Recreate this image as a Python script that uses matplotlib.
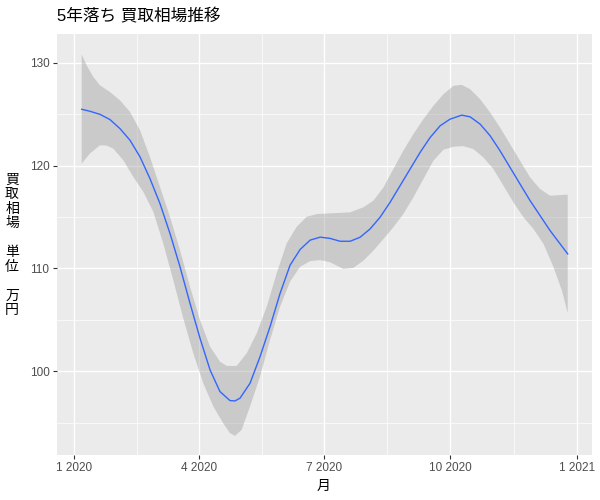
import numpy as np
import matplotlib
matplotlib.use('Agg')
import matplotlib.pyplot as plt

# days since 2020-01-01 and smoothed buyback price (10k yen)
fit_days = [5.4, 11.4, 18.7, 26.0, 33.3, 40.6, 47.9, 55.1, 62.4, 69.7, 77.0, 84.3, 91.6,
            98.9, 106.1, 113.4, 117.1, 120.7, 128.0, 135.3, 142.6, 149.9, 157.2, 164.5,
            171.8, 179.1, 186.3, 193.6, 200.9, 208.2, 215.4, 222.7, 230.0, 237.3, 244.6,
            251.9, 259.2, 266.5, 273.7, 282.2, 288.3, 295.6, 302.9, 310.1, 317.4, 324.7,
            332.0, 339.3, 346.6, 353.9, 359.4]
fit_vals = [125.47, 125.28, 124.98, 124.47, 123.59, 122.46, 120.84, 118.74, 116.31, 113.40,
            110.16, 106.60, 103.20, 100.13, 98.03, 97.15, 97.12, 97.38, 98.83, 101.42,
            104.34, 107.57, 110.32, 111.84, 112.75, 113.04, 112.92, 112.64, 112.64, 113.03,
            113.83, 114.97, 116.42, 118.04, 119.66, 121.28, 122.73, 123.87, 124.51, 124.90,
            124.74, 124.03, 122.90, 121.44, 119.82, 118.20, 116.59, 115.13, 113.67, 112.38,
            111.41]

upper_days = [5.4, 9.0, 13.9, 18.7, 26.0, 33.3, 40.6, 47.9, 55.1, 62.4, 69.7, 77.0, 84.3,
              91.6, 98.9, 106.1, 111.0, 118.3, 125.6, 132.9, 140.2, 147.4, 154.7, 162.0,
              169.3, 176.6, 186.3, 200.9, 210.6, 217.9, 225.2, 232.4, 239.7, 247.0, 254.3,
              261.6, 268.9, 276.2, 282.2, 288.3, 295.6, 302.9, 310.1, 317.4, 324.7, 332.0,
              339.3, 346.6, 359.4]
upper_vals = [130.81, 129.74, 128.61, 127.80, 127.15, 126.34, 125.21, 123.43, 120.84, 117.93,
              115.02, 111.78, 108.22, 104.98, 102.39, 100.94, 100.52, 100.52, 101.75, 103.69,
              106.28, 109.51, 112.43, 114.05, 115.02, 115.28, 115.35, 115.45, 115.94, 116.59,
              117.88, 119.66, 121.44, 123.06, 124.51, 125.81, 126.94, 127.75, 127.85, 127.43,
              126.46, 125.16, 123.71, 122.09, 120.47, 118.85, 117.72, 117.07, 117.17]

lower_days = [5.4, 11.4, 18.7, 23.6, 28.4, 35.7, 43.0, 50.3, 57.6, 64.8, 72.1, 79.4, 86.7,
              94.0, 101.3, 108.5, 113.4, 117.1, 121.9, 128.0, 135.3, 142.6, 149.9, 157.2,
              164.5, 171.8, 179.1, 186.3, 196.0, 203.3, 210.6, 217.9, 225.2, 232.4, 239.7,
              247.0, 254.3, 261.6, 268.9, 276.2, 283.4, 290.7, 298.0, 305.3, 312.6, 319.9,
              327.2, 334.5, 341.8, 349.1, 355.2, 359.4]
lower_vals = [120.19, 121.17, 121.97, 121.94, 121.65, 120.52, 118.90, 117.44, 115.50, 112.43,
              108.87, 105.15, 101.75, 98.83, 96.57, 94.95, 93.98, 93.72, 94.30, 96.57,
              99.48, 103.04, 106.28, 108.71, 110.16, 110.71, 110.81, 110.60, 109.95, 110.05,
              110.76, 111.73, 112.86, 114.00, 115.29, 116.91, 118.69, 120.47, 121.54, 121.83,
              121.89, 121.60, 120.79, 119.66, 118.04, 116.42, 114.97, 113.83, 112.38, 110.11,
              107.85, 105.65]

tick_days = [0, 91, 182, 274, 366]
tick_labels = ['1 2020', '4 2020', '7 2020', '10 2020', '1 2021']

jp = ['Liberation Sans', 'Noto Sans CJK JP']

fig = plt.figure(figsize=(6, 5), dpi=100)
ax = fig.add_axes([56.7 / 600, 1 - 455 / 500, (592 - 56.7) / 600, (455 - 34) / 500])
ax.set_facecolor('#EBEBEB')
for s in ax.spines.values():
    s.set_visible(False)

# confidence band as one polygon: upper edge then lower edge backwards
band_x = np.concatenate([upper_days, lower_days[::-1]])
band_y = np.concatenate([upper_vals, lower_vals[::-1]])
ax.fill(band_x, band_y, color='#999999', alpha=0.4, lw=0, zorder=2)
ax.plot(fit_days, fit_vals, color='#3366FF', lw=1.0, zorder=3)

ax.set_xlim(-12.8, 377.1)
ax.set_ylim(91.86, 132.79)

ax.set_xticks(tick_days)
ax.set_xticklabels(tick_labels)
ax.set_xticks([45.5, 136.5, 228, 320], minor=True)
ax.set_yticks([100, 110, 120, 130])
ax.set_yticks([95, 105, 115, 125], minor=True)

ax.grid(which='major', color='white', lw=1.0, zorder=1)
ax.grid(which='minor', color='white', lw=0.5, zorder=1)
ax.set_axisbelow(True)

ax.tick_params(which='major', length=2.7, width=0.8, color='#333333',
               labelcolor='#4D4D4D', labelsize=8.5, pad=2.5)
ax.tick_params(which='minor', length=0)
for lab in ax.get_xticklabels() + ax.get_yticklabels():
    lab.set_family('Liberation Sans')

ax.set_title('5年落ち 買取相場推移', loc='left', family=jp, fontsize=12, pad=9)

fig.text(12 / 600, 1 - 245 / 500, '買\n取\n相\n場\n\n単\n位\n\n万\n円', family=jp,
         fontsize=10, ha='center', va='center', linespacing=1.05)
fig.text(324 / 600, 1 - 486 / 500, '月', family=jp, fontsize=10, ha='center', va='center')

fig.savefig('out.png', dpi=100)
